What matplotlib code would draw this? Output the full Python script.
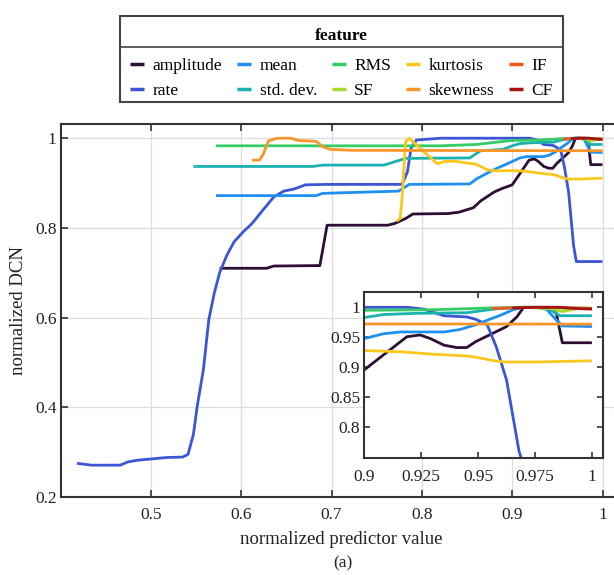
import numpy as np
import matplotlib
matplotlib.use("Agg")
import matplotlib.pyplot as plt
from matplotlib.lines import Line2D
from matplotlib.patches import Rectangle

plt.rcParams['font.family'] = ['Liberation Serif', 'DejaVu Serif']
plt.rcParams['mathtext.fontset'] = 'stix'

features = ['amplitude', 'rate', 'mean', 'std. dev.', 'RMS', 'SF',
            'kurtosis', 'skewness', 'IF', 'CF']
colors = ['#2d0f33', '#3b55d4', '#1e90f0', '#19b2b0', '#33cc66', '#a5dc2b',
          '#f9c71d', '#f8962a', '#ec5a1e', '#a51212']

amplitude_x = [0.576, 0.628, 0.636, 0.687, 0.695, 0.762, 0.770, 0.782, 0.79, 0.829,
               0.841, 0.857, 0.865, 0.88, 0.889, 0.9, 0.9085, 0.9187, 0.9245, 0.929,
               0.935, 0.9406, 0.945, 0.949, 0.955, 0.9625, 0.967, 0.970, 0.9756,
               0.9815, 0.9844, 0.987, 1.0]
amplitude_y = [0.710, 0.710, 0.715, 0.716, 0.806, 0.806, 0.810, 0.821, 0.831, 0.832,
               0.835, 0.845, 0.86, 0.88, 0.888, 0.896, 0.921, 0.951, 0.954, 0.948,
               0.937, 0.933, 0.933, 0.943, 0.954, 0.968, 0.984, 1.0, 1.0,
               1.0, 0.99, 0.941, 0.941]

rate_x = [0.418, 0.434, 0.466, 0.474, 0.485, 0.501, 0.517, 0.535, 0.541, 0.547,
          0.551, 0.558, 0.564, 0.570, 0.576, 0.584, 0.592, 0.602, 0.612, 0.624,
          0.636, 0.647, 0.659, 0.671, 0.695, 0.778, 0.784, 0.788, 0.794, 0.821,
          0.9, 0.919, 0.926, 0.935, 0.945, 0.949, 0.954, 0.958, 0.9625, 0.968,
          0.971, 1.0]
rate_y = [0.275, 0.271, 0.271, 0.278, 0.282, 0.285, 0.288, 0.289, 0.295, 0.34,
          0.40, 0.484, 0.595, 0.654, 0.70, 0.739, 0.769, 0.791, 0.810, 0.840,
          0.869, 0.882, 0.887, 0.896, 0.897, 0.897, 0.925, 0.978, 0.996, 1.0,
          1.0, 1.0, 0.997, 0.986, 0.984, 0.980, 0.971, 0.934, 0.879, 0.76,
          0.725, 0.725]

mean_x = [0.572, 0.683, 0.69, 0.774, 0.786, 0.853, 0.861, 0.88, 0.9, 0.9085, 0.916,
          0.935, 0.942, 0.949, 0.955, 0.96, 0.9654, 0.97, 0.9756, 0.98, 0.9836,
          0.987, 1.0]
mean_y = [0.872, 0.872, 0.877, 0.882, 0.897, 0.898, 0.91, 0.93, 0.948, 0.956, 0.959,
          0.959, 0.963, 0.971, 0.98, 0.987, 0.996, 1.0, 1.0, 0.997, 0.982,
          0.969, 0.968]

std_x = [0.547, 0.679, 0.69, 0.758, 0.782, 0.853, 0.865, 0.89, 0.9, 0.9085, 0.923,
         0.945, 0.957, 0.967, 0.976, 0.981, 0.986, 1.0]
std_y = [0.937, 0.937, 0.940, 0.940, 0.955, 0.956, 0.972, 0.975, 0.983, 0.988, 0.990,
         0.991, 0.997, 1.0, 1.0, 0.997, 0.986, 0.986]

rms_x = [0.572, 0.82, 0.86, 0.9, 0.93, 0.956, 0.97, 1.0]
rms_y = [0.983, 0.983, 0.986, 0.995, 0.996, 0.999, 1.0, 0.998]

sf_x = [0.975, 0.982, 0.987, 0.991, 0.995, 1.0]
sf_y = [0.999, 0.998, 0.993, 0.996, 0.999, 0.999]

kurt_x = [0.772, 0.776, 0.778, 0.782, 0.786, 0.794, 0.806, 0.817, 0.825, 0.837,
          0.845, 0.86, 0.873, 0.885, 0.9, 0.916, 0.930, 0.945, 0.949, 0.957,
          0.962, 0.976, 1.0]
kurt_y = [0.815, 0.821, 0.866, 0.993, 1.0, 0.985, 0.963, 0.943, 0.948, 0.949,
          0.946, 0.942, 0.929, 0.927, 0.928, 0.926, 0.922, 0.919, 0.917, 0.911,
          0.909, 0.909, 0.911]

skew_x = [0.612, 0.62, 0.624, 0.630, 0.64, 0.655, 0.663, 0.683, 0.69, 0.699, 0.722, 1.0]
skew_y = [0.951, 0.951, 0.963, 0.994, 1.0, 1.0, 0.995, 0.993, 0.981, 0.975, 0.973, 0.972]

if_x = [0.956, 0.965, 0.975, 0.985, 1.0]
if_y = [0.998, 0.999, 1.0, 1.0, 0.998]

cf_x = [0.965, 0.975, 0.985, 0.993, 1.0]
cf_y = [0.999, 1.0, 1.0, 0.998, 0.997]

series = [(amplitude_x, amplitude_y), (rate_x, rate_y), (mean_x, mean_y),
          (std_x, std_y), (rms_x, rms_y), (sf_x, sf_y), (kurt_x, kurt_y),
          (skew_x, skew_y), (if_x, if_y), (cf_x, cf_y)]

W, H = 614, 575
fig = plt.figure(figsize=(W / 100, H / 100), dpi=100)

def fx(p):
    return p / W

def fy(p):
    return 1 - p / H

# main axes
L, R, T, B = 60.7, 621.0, 124.3, 497.0
ax = fig.add_axes([fx(L), fy(B), fx(R) - fx(L), fy(T) - fy(B)])
spine_col = '#333333'
handles = []
for (xs, ys), c, name in zip(series, colors, features):
    h, = ax.plot(xs, ys, color=c, lw=2.0, label=name, solid_capstyle='butt',
                 solid_joinstyle='round')
    handles.append(h)
ax.set_xlim(0.4, 0.4 + (R - L) / 903.0)
ax.set_ylim(0.2, 1.031)
ax.set_xticks([0.5, 0.6, 0.7, 0.8, 0.9, 1.0])
ax.set_xticklabels(['0.5', '0.6', '0.7', '0.8', '0.9', '1'])
ax.set_yticks([0.2, 0.4, 0.6, 0.8, 1.0])
ax.set_yticklabels(['0.2', '0.4', '0.6', '0.8', '1'])
ax.grid(True, color='#dcdcdc', lw=0.9)
ax.set_axisbelow(True)
ax.tick_params(direction='in', top=True, right=False, length=5, width=1.2,
               labelsize=12.5, colors=spine_col, labelcolor='#222222')
ax.tick_params(axis='x', pad=7)
ax.tick_params(axis='y', pad=3)
for s in ['left', 'bottom', 'top']:
    ax.spines[s].set_color(spine_col)
    ax.spines[s].set_linewidth(1.5)
ax.spines['right'].set_visible(False)
ax.set_xlabel('normalized predictor value', fontsize=13.5, color='#222222', labelpad=6)
ax.set_ylabel('normalized DCN', fontsize=13.5, color='#222222', labelpad=6)

# inset
iL, iR, iT, iB = 364.3, 603.3, 292.3, 457.5
axi = fig.add_axes([fx(iL), fy(iB), fx(iR) - fx(iL), fy(iT) - fy(iB)])
for (xs, ys), c in zip(series, colors):
    axi.plot(xs, ys, color=c, lw=2.0, solid_capstyle='butt', solid_joinstyle='round')
axi.set_xlim(0.9, 1.005)
axi.set_ylim(0.75, 1.025)
axi.set_xticks([0.9, 0.925, 0.95, 0.975, 1.0])
axi.set_xticklabels(['0.9', '0.925', '0.95', '0.975', '1'])
axi.set_yticks([0.8, 0.85, 0.9, 0.95, 1.0])
axi.set_yticklabels(['0.8', '0.85', '0.9', '0.95', '1'])
axi.tick_params(direction='in', top=True, right=True, length=4, width=1.2,
                labelsize=12.5, colors=spine_col, labelcolor='#222222')
axi.tick_params(axis='x', pad=8)
axi.tick_params(axis='y', pad=3)
for s in axi.spines.values():
    s.set_color(spine_col)
    s.set_linewidth(1.5)

fig.text(343 / W, fy(563), '(a)', ha='center', va='center', fontsize=12.5,
         color='#222222')

# legend (frame drawn separately)
leg = fig.legend(handles=handles, labels=features, ncol=5, loc='center',
                 bbox_to_anchor=(341.5 / W, fy(63.5)), fontsize=12.5,
                 title='feature', title_fontproperties={'weight': 'bold', 'size': 12.5},
                 handlelength=0.8, handletextpad=0.5, columnspacing=0.85,
                 labelspacing=0.53, borderpad=0.4, fancybox=False,
                 frameon=False)
for lh in leg.legend_handles:
    lh.set_linewidth(2.5)
leg._legend_box.sep = 10

box_l, box_r, box_t, box_b = 120.0, 563.0, 16.0, 102.0
fig.add_artist(Rectangle((fx(box_l), fy(box_b)), fx(box_r) - fx(box_l),
                         fy(box_t) - fy(box_b), transform=fig.transFigure,
                         facecolor='white', edgecolor='#444444', lw=1.5, zorder=0))
fig.add_artist(Line2D([fx(box_l), fx(box_r)], [fy(47.3), fy(47.3)],
                      transform=fig.transFigure, color='#444444', lw=1.2))

fig.savefig('out.png', dpi=100)
